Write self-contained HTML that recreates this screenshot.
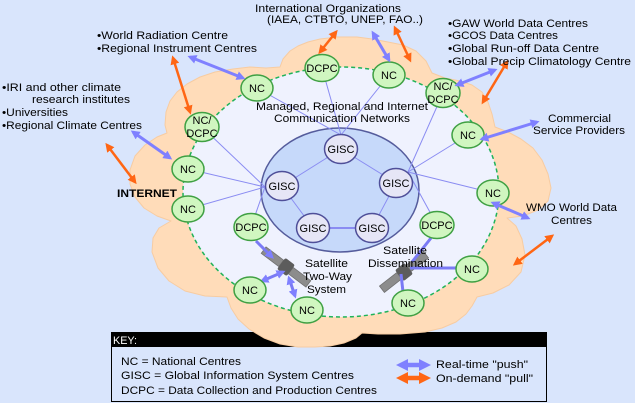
<!DOCTYPE html>
<html><head><meta charset="utf-8"><style>
html,body{margin:0;padding:0;background:#fff}
svg{display:block}
text{font-family:"Liberation Sans",sans-serif;font-size:11px;fill:#000}
</style></head><body>
<svg width="641" height="404" viewBox="0 0 641 404" xmlns="http://www.w3.org/2000/svg">
<defs>
<marker id="hb" viewBox="0 0 10 10" refX="7" refY="5" markerWidth="9" markerHeight="9" markerUnits="userSpaceOnUse" orient="auto-start-reverse"><path d="M0,0L10,5L0,10z" fill="#7f80ff"/></marker>
<marker id="ho" viewBox="0 0 10 10" refX="7" refY="5" markerWidth="9" markerHeight="9" markerUnits="userSpaceOnUse" orient="auto-start-reverse"><path d="M0,0L10,5L0,10z" fill="#ff6614"/></marker>
</defs>
<rect width="641" height="404" fill="#fff"/>
<rect width="635" height="403" fill="#d9e5fc"/>

<!-- key box -->
<rect x="111.5" y="332.5" width="435" height="69" fill="#d9e5fc" stroke="#000"/>
<rect x="111" y="332" width="436" height="15" fill="#000"/>

<!-- cloud -->
<polygon fill="#ffdcb9" stroke="#f7cca2" stroke-width="1" stroke-linejoin="round" points="165,125 166,112 170,101 177,92 187,84 200,77 215,72 233,69 250,67 266,68 280,67 283,59 290,51 298,46 308,42 320,39 337,37 357,37 372,39 388,42 403,45 416,51 426,61 432,73 445,78 460,81 472,85 482,92 488,102 492,114 495,127 508,132 521,139 533,148 542,160 548,174 551,188 548,201 538,210 523,216 507,218 516,226 522,239 525,255 521,272 509,285 493,293 477,297 472,306 466,314 456,322 442,328 425,332 400,334 378,334 362,333 356,338 344,343 330,346 315,347 298,347 280,344 264,338 249,329 238,319 231,308 227,297 205,296 185,291 169,281 158,268 152,252 153,238 159,228 171,221 157,216 144,208 135,197 130,184 130,170 135,156 145,145 157,137 167,133"/>

<!-- inner region -->
<ellipse cx="341" cy="192" rx="158" ry="125" fill="#eff2fe" stroke="#1fb35a" stroke-width="1.5" stroke-dasharray="4 3"/>
<ellipse cx="340" cy="190" rx="79" ry="62" fill="#c6d9fa" stroke="#555c9c" stroke-width="1.5"/>

<!-- thin network lines -->
<g stroke="#8a8cf2" stroke-width="1" fill="none">
<line x1="265" y1="187" x2="202" y2="127"/>
<line x1="265" y1="187" x2="188" y2="169"/>
<line x1="265" y1="187" x2="188" y2="209"/>
<line x1="265" y1="187" x2="251" y2="227"/>
<line x1="341" y1="135" x2="257" y2="88"/>
<line x1="341" y1="135" x2="322" y2="68"/>
<line x1="341" y1="135" x2="389" y2="75"/>
<line x1="408" y1="172" x2="443" y2="93"/>
<line x1="408" y1="172" x2="468" y2="135"/>
<line x1="408" y1="172" x2="493" y2="193"/>
<line x1="408" y1="172" x2="437" y2="225"/>
<line x1="341" y1="149" x2="282" y2="186"/>
<line x1="341" y1="149" x2="396" y2="183"/>
<line x1="282" y1="186" x2="313" y2="228"/>
<line x1="396" y1="183" x2="372" y2="228"/>
<line x1="313" y1="228" x2="372" y2="228" stroke-width="2"/>
</g>

<!-- satellites -->
<g transform="translate(286,267) rotate(37)">
<rect x="-28" y="-4" width="22" height="8" fill="#8c8c8c" stroke="#707070" stroke-width="0.8"/>
<rect x="6" y="-4" width="22" height="8" fill="#8c8c8c" stroke="#707070" stroke-width="0.8"/>
<rect x="-6" y="-7" width="12" height="14" rx="2" fill="#5c5c5c"/>
</g>
<g transform="translate(404,272) rotate(-38)">
<rect x="-28" y="-4" width="22" height="8" fill="#8c8c8c" stroke="#707070" stroke-width="0.8"/>
<rect x="6" y="-4" width="22" height="8" fill="#8c8c8c" stroke="#707070" stroke-width="0.8"/>
<rect x="-6" y="-7" width="12" height="14" rx="2" fill="#5c5c5c"/>
</g>

<!-- satellite links -->
<g stroke="#7a7af5" stroke-width="3" fill="none">
<line x1="256" y1="241" x2="272" y2="257" marker-end="url(#hb)"/>
<line x1="262" y1="281" x2="283" y2="272" marker-start="url(#hb)" marker-end="url(#hb)"/>
<line x1="289" y1="278" x2="295" y2="296" marker-start="url(#hb)" marker-end="url(#hb)"/>
<line x1="431" y1="238" x2="412" y2="262"/>
<line x1="410" y1="268" x2="457" y2="268"/>
<line x1="401" y1="274" x2="403" y2="292"/>
</g>

<!-- nodes -->
<g fill="#d0f6c0" stroke="#3fa043" stroke-width="1.5">
<ellipse cx="257" cy="88" rx="16" ry="13"/>
<ellipse cx="389" cy="75" rx="16" ry="13"/>
<ellipse cx="468" cy="135" rx="16" ry="13"/>
<ellipse cx="493" cy="193" rx="16" ry="13"/>
<ellipse cx="472" cy="269" rx="16" ry="13"/>
<ellipse cx="408" cy="303" rx="16" ry="13"/>
<ellipse cx="307" cy="310" rx="16" ry="13"/>
<ellipse cx="250" cy="290" rx="16" ry="13"/>
<ellipse cx="188" cy="209" rx="16" ry="13"/>
<ellipse cx="188" cy="169" rx="16" ry="13"/>
<ellipse cx="202" cy="127" rx="17" ry="14.5"/>
<ellipse cx="443" cy="93" rx="17" ry="14.5"/>
<ellipse cx="322" cy="68" rx="17" ry="13.5"/>
<ellipse cx="437" cy="225" rx="17" ry="13.5"/>
<ellipse cx="251" cy="227" rx="17" ry="13.5"/>
</g>
<g fill="#e6e6f6" stroke="#4f4f99" stroke-width="1.5">
<ellipse cx="341" cy="149" rx="16.5" ry="14.5"/>
<ellipse cx="282" cy="186" rx="16.5" ry="14.5"/>
<ellipse cx="396" cy="183" rx="16.5" ry="14.5"/>
<ellipse cx="313" cy="228" rx="16.5" ry="14.5"/>
<ellipse cx="372" cy="228" rx="16.5" ry="14.5"/>
</g>

<!-- node labels -->
<g text-anchor="middle">
<text x="257" y="92">NC</text>
<text x="389" y="79">NC</text>
<text x="468" y="139">NC</text>
<text x="493" y="197">NC</text>
<text x="472" y="273">NC</text>
<text x="408" y="307">NC</text>
<text x="307" y="314">NC</text>
<text x="250" y="294">NC</text>
<text x="188" y="213">NC</text>
<text x="188" y="173">NC</text>
<text x="202" y="124">NC/</text>
<text x="202" y="137">DCPC</text>
<text x="443" y="90">NC/</text>
<text x="443" y="103">DCPC</text>
<text x="322" y="72">DCPC</text>
<text x="437" y="229">DCPC</text>
<text x="251" y="231">DCPC</text>
<text x="341" y="153">GISC</text>
<text x="282" y="190">GISC</text>
<text x="396" y="187">GISC</text>
<text x="313" y="232">GISC</text>
<text x="372" y="232">GISC</text>
</g>

<!-- outer arrows -->
<g stroke="#ff6614" stroke-width="2.5" fill="none">
<line x1="173" y1="58" x2="190" y2="112" marker-start="url(#ho)" marker-end="url(#ho)"/>
<line x1="107" y1="145" x2="135" y2="182" marker-start="url(#ho)" marker-end="url(#ho)"/>
<line x1="336" y1="32" x2="320" y2="52" marker-start="url(#ho)" marker-end="url(#ho)"/>
<line x1="395" y1="28" x2="410" y2="60" marker-start="url(#ho)" marker-end="url(#ho)"/>
<line x1="507" y1="62" x2="483" y2="102" marker-start="url(#ho)" marker-end="url(#ho)"/>
<line x1="552" y1="236" x2="515" y2="264" marker-start="url(#ho)" marker-end="url(#ho)"/>
</g>
<g stroke="#7f80ff" stroke-width="3" fill="none">
<line x1="190" y1="57" x2="243" y2="78" marker-start="url(#hb)" marker-end="url(#hb)"/>
<line x1="133" y1="132" x2="170" y2="158" marker-start="url(#hb)" marker-end="url(#hb)"/>
<line x1="373" y1="33" x2="389" y2="60" marker-start="url(#hb)" marker-end="url(#hb)"/>
<line x1="457" y1="85" x2="495" y2="70" marker-start="url(#hb)" marker-end="url(#hb)"/>
<line x1="482" y1="139" x2="537" y2="122" marker-start="url(#hb)" marker-end="url(#hb)"/>
<line x1="493" y1="203" x2="528" y2="218" marker-start="url(#hb)" marker-end="url(#hb)"/>
</g>

<!-- labels -->
<g lengthAdjust="spacingAndGlyphs">
<text x="255" y="12" textLength="146" lengthAdjust="spacingAndGlyphs">International Organizations</text>
<text x="267" y="23" textLength="156" lengthAdjust="spacingAndGlyphs">(IAEA, CTBTO, UNEP, FAO..)</text>
<text x="97" y="39" textLength="131" lengthAdjust="spacingAndGlyphs">•World Radiation Centre</text>
<text x="97" y="52" textLength="160" lengthAdjust="spacingAndGlyphs">•Regional Instrument Centres</text>
<text x="2" y="91" textLength="119" lengthAdjust="spacingAndGlyphs">•IRI and other climate</text>
<text x="32" y="103" textLength="98" lengthAdjust="spacingAndGlyphs">research institutes</text>
<text x="2" y="116" textLength="66" lengthAdjust="spacingAndGlyphs">•Universities</text>
<text x="2" y="129" textLength="140" lengthAdjust="spacingAndGlyphs">•Regional Climate Centres</text>
<text x="117" y="197" textLength="60" lengthAdjust="spacingAndGlyphs" font-weight="bold">INTERNET</text>
<text x="256" y="110" textLength="172" lengthAdjust="spacingAndGlyphs">Managed, Regional and Internet</text>
<text x="274" y="122" textLength="136" lengthAdjust="spacingAndGlyphs">Communication Networks</text>
<text x="448" y="27" textLength="140" lengthAdjust="spacingAndGlyphs">•GAW World Data Centres</text>
<text x="448" y="39" textLength="110" lengthAdjust="spacingAndGlyphs">•GCOS Data Centres</text>
<text x="448" y="52" textLength="151" lengthAdjust="spacingAndGlyphs">•Global Run-off Data Centre</text>
<text x="448" y="65" textLength="183" lengthAdjust="spacingAndGlyphs">•Global Precip Climatology Centre</text>
<text x="548" y="122" textLength="63" lengthAdjust="spacingAndGlyphs">Commercial</text>
<text x="533" y="134" textLength="92" lengthAdjust="spacingAndGlyphs">Service Providers</text>
<text x="526" y="211" textLength="91" lengthAdjust="spacingAndGlyphs">WMO World Data</text>
<text x="551" y="224" textLength="41" lengthAdjust="spacingAndGlyphs">Centres</text>
<text x="305" y="267" textLength="43" lengthAdjust="spacingAndGlyphs">Satellite</text>
<text x="303" y="280" textLength="49" lengthAdjust="spacingAndGlyphs">Two-Way</text>
<text x="307" y="293" textLength="39" lengthAdjust="spacingAndGlyphs">System</text>
<text x="383" y="254" textLength="44" lengthAdjust="spacingAndGlyphs">Satellite</text>
<text x="368" y="267" textLength="75" lengthAdjust="spacingAndGlyphs">Dissemination</text>
<text x="113" y="344" textLength="24" lengthAdjust="spacingAndGlyphs" style="fill:#fff">KEY:</text>
<text x="121" y="365" textLength="120" lengthAdjust="spacingAndGlyphs">NC = National Centres</text>
<text x="121" y="379" textLength="233" lengthAdjust="spacingAndGlyphs">GISC = Global Information System Centres</text>
<text x="121" y="394" textLength="256" lengthAdjust="spacingAndGlyphs">DCPC = Data Collection and Production Centres</text>
<text x="436" y="368" textLength="92" lengthAdjust="spacingAndGlyphs">Real-time "push"</text>
<text x="436" y="382" textLength="97" lengthAdjust="spacingAndGlyphs">On-demand "pull"</text>
</g>

<!-- legend arrows -->
<polygon fill="#7f80ff" points="396,365 408,359 408,362.7 419,362.7 419,359 431,365 419,371 419,367.3 408,367.3 408,371"/>
<polygon fill="#ff6614" points="396,378 408,372 408,375.7 419,375.7 419,372 431,378 419,384 419,380.3 408,380.3 408,384"/>
</svg>
</body></html>
